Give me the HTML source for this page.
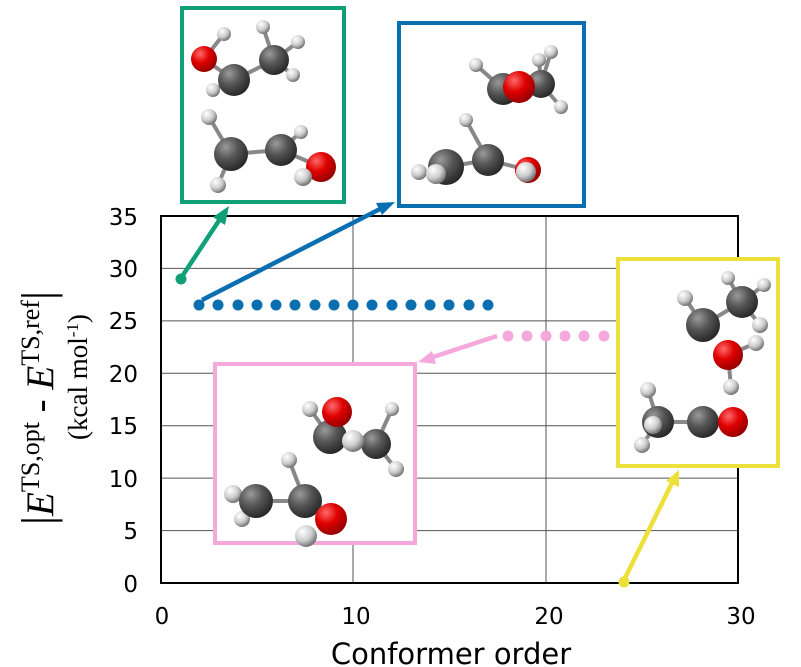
<!DOCTYPE html>
<html><head><meta charset="utf-8"><style>
html,body{margin:0;padding:0;background:#fff;width:801px;height:667px;overflow:hidden}
svg{display:block}
</style></head><body>
<svg width="801" height="667" viewBox="0 0 801 667" xmlns="http://www.w3.org/2000/svg">
<defs>
<radialGradient id="gC" cx="35%" cy="30%" r="70%"><stop offset="0" stop-color="#9a9a9a"/><stop offset="0.5" stop-color="#555"/><stop offset="1" stop-color="#2a2a2a"/></radialGradient>
<radialGradient id="gO" cx="35%" cy="30%" r="70%"><stop offset="0" stop-color="#ff6a6a"/><stop offset="0.5" stop-color="#e00000"/><stop offset="1" stop-color="#900"/></radialGradient>
<radialGradient id="gH" cx="35%" cy="30%" r="70%"><stop offset="0" stop-color="#fff"/><stop offset="0.6" stop-color="#ccc"/><stop offset="1" stop-color="#777"/></radialGradient>
</defs>
<g stroke="#555" stroke-width="1">
<line x1="161" y1="268.4" x2="738" y2="268.4"/><line x1="161" y1="320.9" x2="738" y2="320.9"/>
<line x1="161" y1="373.3" x2="738" y2="373.3"/><line x1="161" y1="425.7" x2="738" y2="425.7"/>
<line x1="161" y1="478.1" x2="738" y2="478.1"/><line x1="161" y1="530.6" x2="738" y2="530.6"/>
<line x1="353" y1="216" x2="353" y2="583"/><line x1="546" y1="216" x2="546" y2="583"/>
</g>
<rect x="161" y="216" width="577" height="367" fill="none" stroke="#000" stroke-width="2"/>
<g font-family="DejaVu Sans, Liberation Sans, sans-serif" font-size="23" text-anchor="end" fill="#000">
<text x="138" y="225">35</text><text x="138" y="277">30</text><text x="138" y="329">25</text>
<text x="138" y="382">20</text><text x="138" y="434">15</text><text x="138" y="487">10</text>
<text x="138" y="539">5</text><text x="138" y="592">0</text>
</g>
<g font-family="DejaVu Sans, Liberation Sans, sans-serif" font-size="23" text-anchor="middle" fill="#000">
<text x="162" y="624">0</text><text x="356" y="624">10</text><text x="549" y="624">20</text><text x="741" y="624">30</text>
</g>
<text x="451" y="664" text-anchor="middle" font-family="DejaVu Sans, Liberation Sans, sans-serif" font-size="29">Conformer order</text>
<text transform="translate(53,408) rotate(-90)" text-anchor="middle" font-family="Liberation Serif, serif" font-size="39"><tspan font-size="45">|</tspan><tspan font-style="italic">E</tspan><tspan font-size="26" dy="-14">TS,opt</tspan><tspan dy="14"> - </tspan><tspan font-style="italic">E</tspan><tspan font-size="26" dy="-14">TS,ref</tspan><tspan dy="14" font-size="45">|</tspan></text>
<text transform="translate(87,377) rotate(-90)" text-anchor="middle" font-family="Liberation Serif, serif" font-size="27">(kcal mol<tspan font-size="17" dy="-9">-1</tspan><tspan dy="9">)</tspan></text>
<g fill="#0a6fb0">
<circle cx="199" cy="305" r="5.5"/><circle cx="218" cy="305" r="5.5"/><circle cx="238" cy="305" r="5.5"/><circle cx="257" cy="305" r="5.5"/><circle cx="276" cy="305" r="5.5"/><circle cx="295" cy="305" r="5.5"/><circle cx="315" cy="305" r="5.5"/><circle cx="334" cy="305" r="5.5"/><circle cx="353" cy="305" r="5.5"/><circle cx="372" cy="305" r="5.5"/><circle cx="392" cy="305" r="5.5"/><circle cx="411" cy="305" r="5.5"/><circle cx="430" cy="305" r="5.5"/><circle cx="449" cy="305" r="5.5"/><circle cx="469" cy="305" r="5.5"/><circle cx="488" cy="305" r="5.5"/>
</g>
<g fill="#f5a8dc">
<circle cx="508" cy="336" r="5.5"/><circle cx="527" cy="336" r="5.5"/><circle cx="546" cy="336" r="5.5"/><circle cx="565" cy="336" r="5.5"/><circle cx="584" cy="336" r="5.5"/><circle cx="604" cy="336" r="5.5"/>
</g>
<circle cx="181" cy="279" r="5.5" fill="#10a078"/>
<circle cx="624" cy="582" r="5.5" fill="#ece03a"/>
<g stroke-width="4.5" fill="none">
<line x1="183" y1="275" x2="220" y2="219" stroke="#10a078"/>
<line x1="202" y1="300" x2="382" y2="208" stroke="#0a6fb0"/>
<line x1="497" y1="336" x2="430" y2="358" stroke="#f5a8dc"/>
<line x1="624" y1="580" x2="672" y2="483" stroke="#ece03a"/>
</g>
<polygon points="229,206 225,225 213,217" fill="#10a078"/>
<polygon points="395,202 382,215 376,203" fill="#0a6fb0"/>
<polygon points="418,362 432,351 436,364" fill="#f5a8dc"/>
<polygon points="679,470 679,487 666,481" fill="#ece03a"/>
<g fill="#fff" stroke-width="4">
<rect x="182" y="8" width="162" height="194" stroke="#10a078"/>
<rect x="399" y="23" width="185" height="183" stroke="#0a6fb0"/>
<rect x="215" y="364" width="200" height="179" stroke="#f5a8dc"/>
<rect x="618" y="259" width="160" height="207" stroke="#ece03a"/>
</g>
<g stroke="#888" stroke-width="4">
<line x1="204" y1="59" x2="234" y2="80"/><line x1="204" y1="59" x2="224" y2="34"/><line x1="234" y1="80" x2="213" y2="90"/><line x1="234" y1="80" x2="274" y2="60"/><line x1="274" y1="60" x2="263" y2="27"/><line x1="274" y1="60" x2="298" y2="42"/><line x1="274" y1="60" x2="293" y2="75"/>
<line x1="231" y1="154" x2="281" y2="150"/><line x1="231" y1="154" x2="209" y2="117"/><line x1="231" y1="154" x2="218" y2="185"/><line x1="281" y1="150" x2="301" y2="132"/><line x1="281" y1="150" x2="321" y2="167"/>
<line x1="503" y1="89" x2="476" y2="65"/><line x1="541" y1="84" x2="551" y2="52"/><line x1="541" y1="84" x2="561" y2="107"/><line x1="541" y1="84" x2="539" y2="60"/>
<line x1="446" y1="167" x2="488" y2="160"/><line x1="488" y1="160" x2="466" y2="120"/><line x1="488" y1="160" x2="528" y2="170"/>
<line x1="330" y1="437" x2="310" y2="409"/><line x1="330" y1="437" x2="376" y2="444"/><line x1="376" y1="444" x2="392" y2="409"/><line x1="376" y1="444" x2="396" y2="469"/>
<line x1="256" y1="501" x2="305" y2="501"/><line x1="305" y1="501" x2="289" y2="460"/><line x1="305" y1="501" x2="331" y2="519"/><line x1="256" y1="501" x2="233" y2="494"/>
<line x1="703" y1="325" x2="742" y2="302"/><line x1="703" y1="325" x2="685" y2="298"/><line x1="742" y1="302" x2="728" y2="278"/><line x1="742" y1="302" x2="764" y2="285"/><line x1="742" y1="302" x2="760" y2="325"/><line x1="728" y1="355" x2="756" y2="343"/><line x1="728" y1="355" x2="731" y2="387"/>
<line x1="658" y1="422" x2="733" y2="422"/><line x1="658" y1="422" x2="648" y2="390"/><line x1="658" y1="422" x2="642" y2="445"/>
</g>
<g>
<circle cx="224" cy="34" r="7" fill="url(#gH)"/><circle cx="204" cy="59" r="13" fill="url(#gO)"/><circle cx="213" cy="90" r="7" fill="url(#gH)"/><circle cx="234" cy="80" r="16" fill="url(#gC)"/><circle cx="263" cy="27" r="7" fill="url(#gH)"/><circle cx="298" cy="42" r="7" fill="url(#gH)"/><circle cx="274" cy="60" r="15" fill="url(#gC)"/><circle cx="293" cy="75" r="7" fill="url(#gH)"/>
<circle cx="209" cy="117" r="8" fill="url(#gH)"/><circle cx="301" cy="132" r="7" fill="url(#gH)"/><circle cx="231" cy="154" r="17" fill="url(#gC)"/><circle cx="218" cy="185" r="8" fill="url(#gH)"/><circle cx="281" cy="150" r="16" fill="url(#gC)"/><circle cx="321" cy="167" r="15" fill="url(#gO)"/><circle cx="303" cy="177" r="9" fill="url(#gH)"/>
<circle cx="476" cy="65" r="7" fill="url(#gH)"/><circle cx="551" cy="52" r="7" fill="url(#gH)"/><circle cx="539" cy="60" r="7" fill="url(#gH)"/><circle cx="541" cy="84" r="14" fill="url(#gC)"/><circle cx="561" cy="107" r="7" fill="url(#gH)"/><circle cx="503" cy="89" r="16" fill="url(#gC)"/><circle cx="519" cy="87" r="16" fill="url(#gO)"/>
<circle cx="466" cy="120" r="7" fill="url(#gH)"/><circle cx="446" cy="167" r="18" fill="url(#gC)"/><circle cx="419" cy="172" r="8" fill="url(#gH)"/><circle cx="436" cy="174" r="10" fill="url(#gH)"/><circle cx="488" cy="160" r="16" fill="url(#gC)"/><circle cx="528" cy="170" r="13" fill="url(#gO)"/><circle cx="526" cy="172" r="10" fill="url(#gH)"/>
<circle cx="310" cy="409" r="8" fill="url(#gH)"/><circle cx="392" cy="409" r="7" fill="url(#gH)"/><circle cx="330" cy="437" r="17" fill="url(#gC)"/><circle cx="376" cy="444" r="15" fill="url(#gC)"/><circle cx="337" cy="412" r="15" fill="url(#gO)"/><circle cx="353" cy="441" r="11" fill="url(#gH)"/><circle cx="396" cy="469" r="8" fill="url(#gH)"/>
<circle cx="289" cy="460" r="8" fill="url(#gH)"/><circle cx="233" cy="494" r="9" fill="url(#gH)"/><circle cx="242" cy="519" r="8" fill="url(#gH)"/><circle cx="256" cy="501" r="17" fill="url(#gC)"/><circle cx="305" cy="501" r="17" fill="url(#gC)"/><circle cx="331" cy="519" r="16" fill="url(#gO)"/><circle cx="306" cy="536" r="11" fill="url(#gH)"/>
<circle cx="685" cy="298" r="8" fill="url(#gH)"/><circle cx="728" cy="278" r="7" fill="url(#gH)"/><circle cx="764" cy="285" r="7" fill="url(#gH)"/><circle cx="703" cy="325" r="17" fill="url(#gC)"/><circle cx="742" cy="302" r="16" fill="url(#gC)"/><circle cx="760" cy="325" r="8" fill="url(#gH)"/><circle cx="756" cy="343" r="8" fill="url(#gH)"/><circle cx="728" cy="355" r="15" fill="url(#gO)"/><circle cx="731" cy="387" r="8" fill="url(#gH)"/>
<circle cx="648" cy="390" r="8" fill="url(#gH)"/><circle cx="658" cy="422" r="16" fill="url(#gC)"/><circle cx="653" cy="425" r="9" fill="url(#gH)"/><circle cx="642" cy="445" r="8" fill="url(#gH)"/><circle cx="703" cy="422" r="16" fill="url(#gC)"/><circle cx="733" cy="422" r="15" fill="url(#gO)"/>
</g>
</svg>
</body></html>
